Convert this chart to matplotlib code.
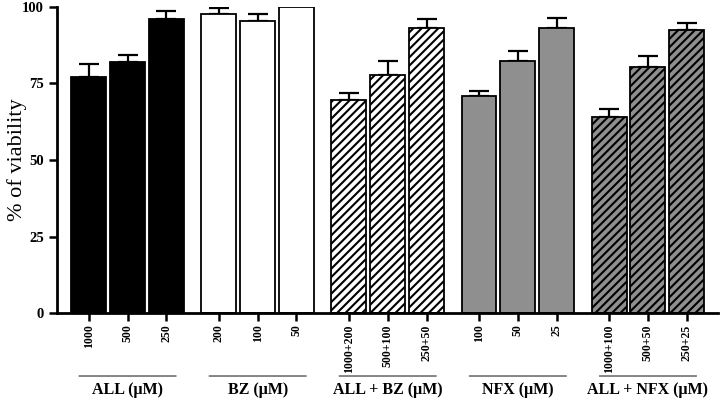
import matplotlib
matplotlib.use("Agg")
from matplotlib import pyplot as plt
import numpy as np

plt.rcParams['font.family'] = ['Liberation Serif', 'DejaVu Serif']
plt.rcParams['hatch.linewidth'] = 1.5

groups = ['ALL (μM)', 'BZ (μM)', 'ALL + BZ (μM)', 'NFX (μM)', 'ALL + NFX (μM)']
doses = [['1000', '500', '250'],
         ['200', '100', '50'],
         ['1000+200', '500+100', '250+50'],
         ['100', '50', '25'],
         ['1000+100', '500+50', '250+25']]
viability = [[77.1, 81.9, 96.1],
             [97.8, 95.3, 100.0],
             [69.6, 77.9, 93.1],
             [70.9, 82.3, 93.1],
             [63.9, 80.3, 92.5]]
sem = [[4.1, 2.3, 2.4],
       [1.9, 2.2, 0.0],
       [2.2, 4.5, 2.9],
       [1.6, 3.2, 3.2],
       [2.7, 3.6, 2.1]]

face = ['black', 'white', 'white', '#8f8f8f', '#8f8f8f']
hatch = [None, None, '////', None, '////']

fig = plt.figure(figsize=(7.2, 4), dpi=100)
ax = fig.add_axes([0.079, 0.217, 0.918, 0.766])

gap = 3.35
xs, labels = [], []
for g in range(len(groups)):
    x = g * gap + np.arange(3)
    ax.bar(x, viability[g], width=0.9, color=face[g], edgecolor='black',
           linewidth=1.3, hatch=hatch[g], zorder=2)
    ax.errorbar(x, viability[g], yerr=[np.zeros(3), sem[g]], fmt='none',
                ecolor='black', elinewidth=1.6, capsize=7.5, capthick=1.6, zorder=1)
    xs.extend(x)
    labels.extend(doses[g])
    # group bracket line and label
    c = g * gap + 1
    ax.annotate('', xy=(c - 1.32, -0.205), xytext=(c + 1.32, -0.205),
                xycoords=('data', 'axes fraction'),
                arrowprops=dict(arrowstyle='-', color='#555555', lw=1.0),
                annotation_clip=False)
    ax.text(c, -0.252, groups[g], transform=ax.get_xaxis_transform(),
            ha='center', va='center', fontsize=11.5, fontweight='bold')

ax.set_xticks(xs)
ax.set_xticklabels(labels, rotation=90, fontsize=8.5, fontweight='bold')
ax.set_xlim(-0.82, 4 * gap + 2.8)
ax.set_ylim(0, 100)
ax.set_yticks([0, 25, 50, 75, 100])
ax.set_yticklabels(['0', '25', '50', '75', '100'], fontsize=10.5, fontweight='bold')
ax.set_ylabel('% of viability', fontsize=16)
ax.yaxis.set_label_coords(-0.045, 0.5)

for s in ['top', 'right']:
    ax.spines[s].set_visible(False)
for s in ['left', 'bottom']:
    ax.spines[s].set_linewidth(2)
ax.tick_params(axis='both', width=1.8, length=6, direction='out')
ax.tick_params(axis='x', pad=2)

fig.savefig('out.png', dpi=100)
